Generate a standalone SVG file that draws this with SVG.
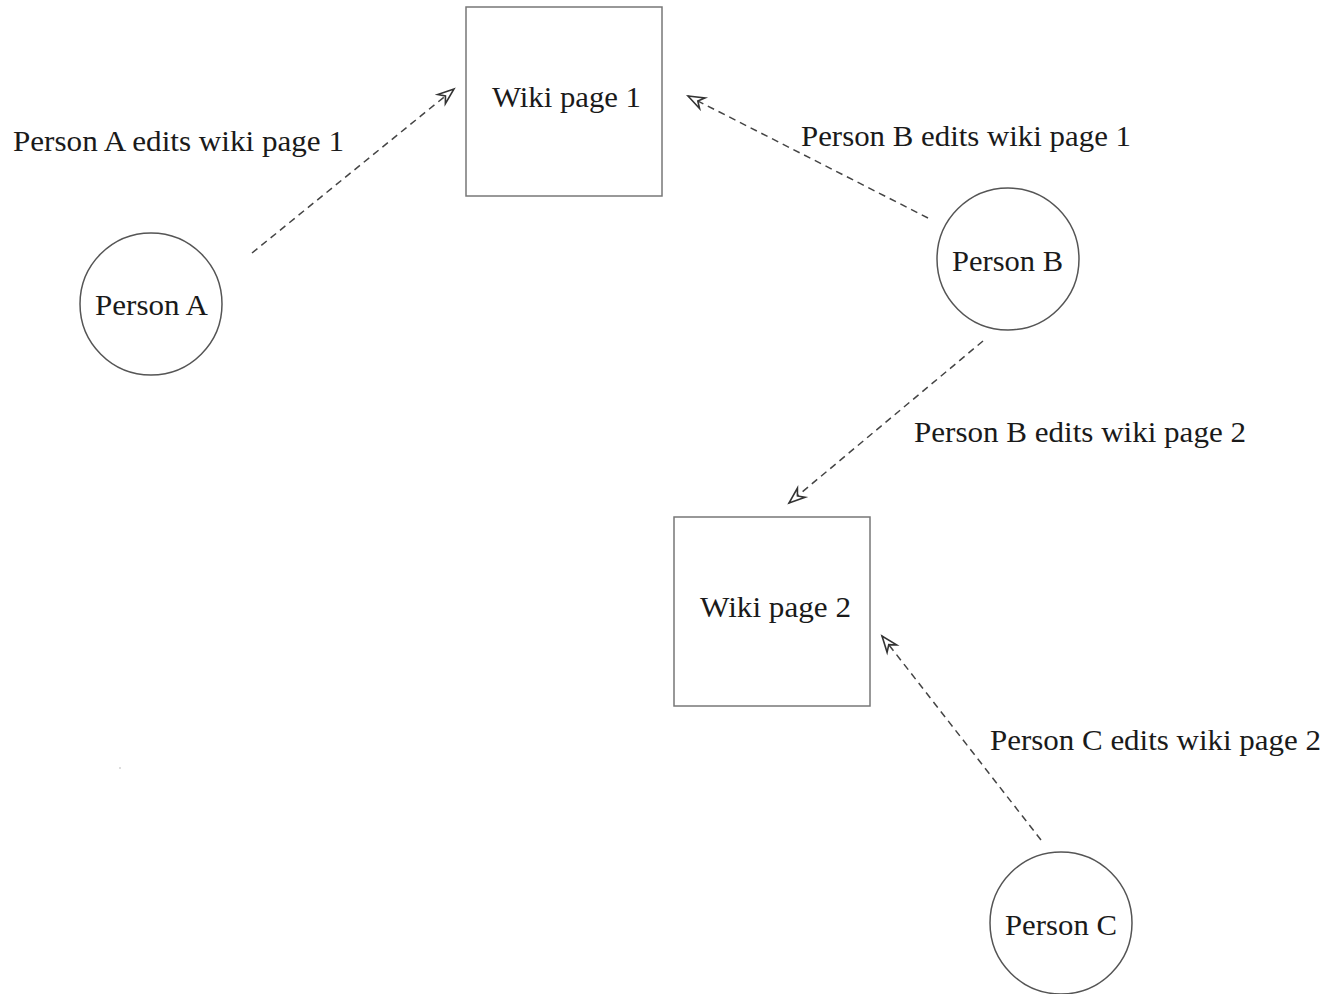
<svg xmlns="http://www.w3.org/2000/svg" width="1332" height="994" viewBox="0 0 1332 994">
<style>
.box{fill:#fff;stroke:#777;stroke-width:1.5}
.circ{fill:#fff;stroke:#555;stroke-width:1.5}
.lbl{font-family:"Liberation Serif","Times New Roman",serif;font-size:30px;fill:#1a1a1a}
.edge{fill:none;stroke:#444;stroke-width:1.5;stroke-dasharray:7 5}
</style>
<defs>
<marker id="arr" markerUnits="userSpaceOnUse" markerWidth="24" markerHeight="16" viewBox="-18 -8 20 16" refX="0" refY="0" orient="auto">
<path d="M0,0 L-16,-6 L-11,0 L-16,6 Z" fill="#fff" stroke="#333" stroke-width="1.6" stroke-linejoin="miter"/>
</marker>
</defs>
<rect x="0" y="0" width="1332" height="994" fill="#fff"/>
<g id="connectors">
<line class="edge" x1="252" y1="253" x2="454" y2="89" marker-end="url(#arr)"/>
<line class="edge" x1="928" y1="218" x2="688" y2="96" marker-end="url(#arr)"/>
<line class="edge" x1="983" y1="341" x2="789" y2="503" marker-end="url(#arr)"/>
<line class="edge" x1="1041" y1="840" x2="882" y2="636" marker-end="url(#arr)"/>
<text class="lbl" x="13" y="151" textLength="331" lengthAdjust="spacingAndGlyphs">Person A edits wiki page 1</text>
<text class="lbl" x="801" y="146" textLength="330" lengthAdjust="spacingAndGlyphs">Person B edits wiki page 1</text>
<text class="lbl" x="914" y="442" textLength="332" lengthAdjust="spacingAndGlyphs">Person B edits wiki page 2</text>
<text class="lbl" x="990" y="750" textLength="331" lengthAdjust="spacingAndGlyphs">Person C edits wiki page 2</text>
</g>
<g id="wiki1">
<rect class="box" x="466" y="7" width="196" height="189"/>
<text class="lbl" x="492" y="107" textLength="149" lengthAdjust="spacingAndGlyphs">Wiki page 1</text>
</g>
<g id="wiki2">
<rect class="box" x="674" y="517" width="196" height="189"/>
<text class="lbl" x="700" y="617" textLength="151" lengthAdjust="spacingAndGlyphs">Wiki page 2</text>
</g>
<g id="personA">
<circle class="circ" cx="151" cy="304" r="71"/>
<text class="lbl" x="95" y="315" textLength="113" lengthAdjust="spacingAndGlyphs">Person A</text>
</g>
<g id="personB">
<circle class="circ" cx="1008" cy="259" r="71"/>
<text class="lbl" x="952" y="271" textLength="111" lengthAdjust="spacingAndGlyphs">Person B</text>
</g>
<g id="personC">
<circle class="circ" cx="1061" cy="923" r="71"/>
<text class="lbl" x="1005" y="935" textLength="112" lengthAdjust="spacingAndGlyphs">Person C</text>
</g>
<rect x="119" y="767" width="2" height="2" fill="#ddd"/>
</svg>
